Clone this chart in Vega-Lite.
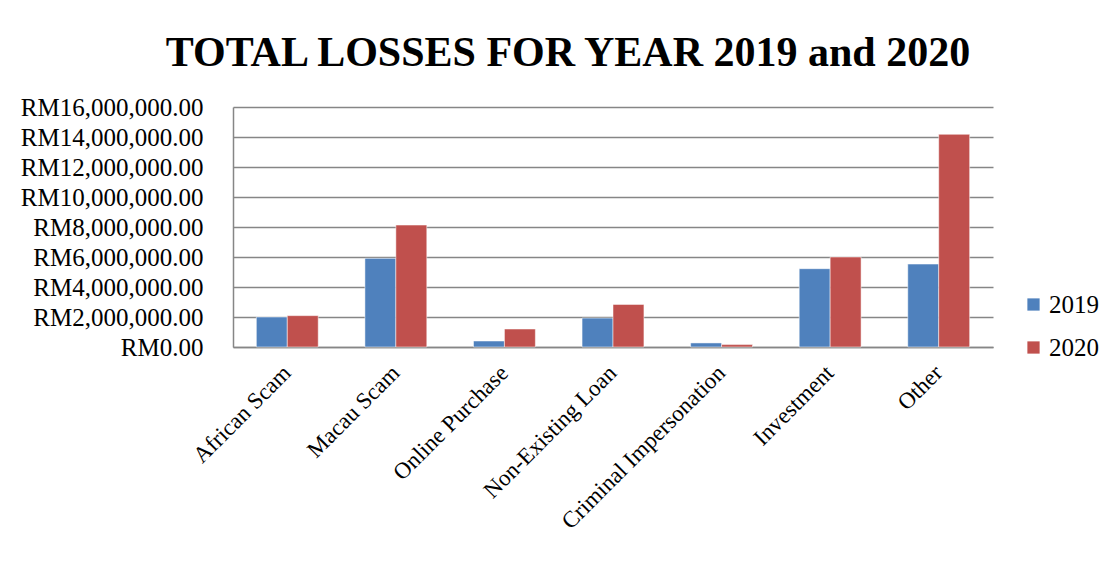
{
  "$schema": "https://vega.github.io/schema/vega-lite/v6.json",
  "description": "Total losses by scam type, 2019 vs 2020",
  "background": "white",
  "autosize": {"type": "none"},
  "padding": {"left": 233, "top": 107, "right": 119, "bottom": 220},
  "width": 760,
  "height": 240,
  "title": {
    "text": "TOTAL LOSSES FOR YEAR 2019 and 2020",
    "font": "Liberation Serif",
    "fontSize": 42,
    "fontWeight": "bold",
    "color": "black",
    "anchor": "middle",
    "frame": "group",
    "dx": -45,
    "offset": 20
  },
  "data": {
    "values": [
      {"category": "African Scam", "year": "2019", "amount": 2000000},
      {"category": "African Scam", "year": "2020", "amount": 2090000},
      {"category": "Macau Scam", "year": "2019", "amount": 5910000},
      {"category": "Macau Scam", "year": "2020", "amount": 8130000},
      {"category": "Online Purchase", "year": "2019", "amount": 400000},
      {"category": "Online Purchase", "year": "2020", "amount": 1200000},
      {"category": "Non-Existing Loan", "year": "2019", "amount": 1930000},
      {"category": "Non-Existing Loan", "year": "2020", "amount": 2840000},
      {"category": "Criminal Impersonation", "year": "2019", "amount": 270000},
      {"category": "Criminal Impersonation", "year": "2020", "amount": 160000},
      {"category": "Investment", "year": "2019", "amount": 5220000},
      {"category": "Investment", "year": "2020", "amount": 6000000},
      {"category": "Other", "year": "2019", "amount": 5530000},
      {"category": "Other", "year": "2020", "amount": 14180000}
    ]
  },
  "mark": {"type": "bar", "stroke": "white", "strokeOpacity": 0.5, "strokeWidth": 1},
  "encoding": {
    "x": {
      "field": "category",
      "type": "nominal",
      "sort": null,
      "scale": {"paddingInner": 0.43, "paddingOuter": 0.215},
      "axis": {
        "title": null,
        "labelAngle": -45,
        "labelAlign": "right",
        "labelBaseline": "middle",
        "labelPadding": 22,
        "labelFontSize": 23,
        "labelLimit": 0,
        "ticks": false
      }
    },
    "xOffset": {"field": "year", "type": "nominal"},
    "y": {
      "field": "amount",
      "type": "quantitative",
      "scale": {"domain": [0, 16000000], "nice": false},
      "axis": {
        "title": null,
        "values": [0, 2000000, 4000000, 6000000, 8000000, 10000000, 12000000, 14000000, 16000000],
        "labelExpr": "'RM' + format(datum.value, ',.2f')",
        "labelFontSize": 25,
        "labelLimit": 0,
        "labelPadding": 30,
        "ticks": false
      }
    },
    "color": {
      "field": "year",
      "type": "nominal",
      "scale": {"domain": ["2019", "2020"], "range": ["#4F81BD", "#C0504D"]},
      "legend": {
        "title": null,
        "orient": "none",
        "legendX": 788,
        "legendY": 185,
        "padding": 0,
        "symbolType": "square",
        "symbolSize": 150,
        "symbolStrokeWidth": 0,
        "labelFont": "Liberation Serif",
        "labelFontSize": 25,
        "labelColor": "black",
        "labelOffset": 3,
        "rowPadding": 17
      }
    }
  },
  "config": {
    "font": "Liberation Serif",
    "view": {"stroke": null},
    "axis": {
      "domainColor": "#868686",
      "domainWidth": 1.5,
      "gridColor": "#868686",
      "gridWidth": 1.5,
      "labelColor": "black",
      "labelFont": "Liberation Serif"
    },
    "axisX": {"grid": false},
    "axisY": {"grid": true},
    "legend": {"labelFont": "Liberation Serif", "labelColor": "black"}
  }
}
